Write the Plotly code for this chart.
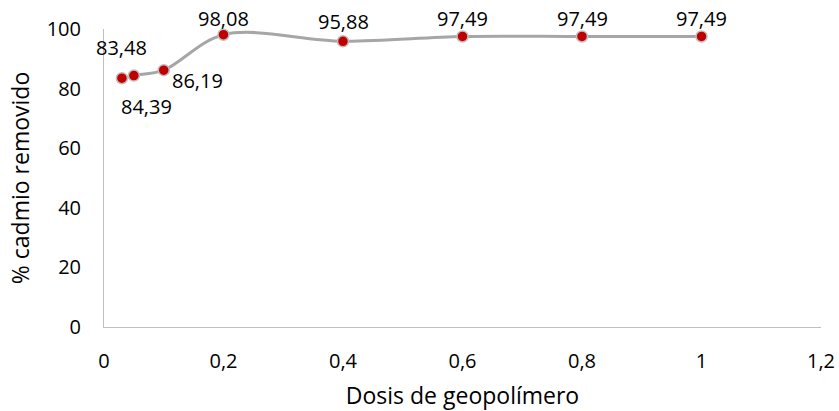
import plotly.graph_objects as go

dosis = [0.03, 0.05, 0.1, 0.2, 0.4, 0.6, 0.8, 1.0]
removido = [83.48, 84.39, 86.19, 98.08, 95.88, 97.49, 97.49, 97.49]
x_ticks = [0, 0.2, 0.4, 0.6, 0.8, 1.0, 1.2]
y_ticks = [0, 20, 40, 60, 80, 100]

# pixel offsets of the data labels from their markers (styling only)
label_dx = [0, 13, 34, 0, 0, 0, 0, 0]
label_dy = [31, -31, -10, 16, 20, 18, 18, 18]

font = "Open Sans, Liberation Sans, sans-serif"

fig = go.Figure()
fig.add_trace(go.Scatter(
    x=dosis, y=removido,
    mode="lines+markers",
    line=dict(color="#a6a6a6", width=3, shape="spline", smoothing=1),
    marker=dict(color="#c00000", size=11, line=dict(color="#bfbfbf", width=1.5)),
    cliponaxis=False,
    showlegend=False,
))

for xv, yv, dx, dy in zip(dosis, removido, label_dx, label_dy):
    fig.add_annotation(
        x=xv, y=yv, xref="x", yref="y",
        text=f"{yv:.2f}".replace(".", ","),
        showarrow=False, xshift=dx, yshift=dy,
        xanchor="center", yanchor="middle",
        font=dict(size=20, color="#000000", family=font),
    )

fig.update_layout(
    width=839, height=411,
    margin=dict(l=104, r=18, t=29, b=84),
    plot_bgcolor="white", paper_bgcolor="white",
    separators=", ",
    font=dict(family=font, size=20, color="#000000"),
    xaxis=dict(
        range=[0, 1.2], tickvals=x_ticks, showgrid=False,
        zeroline=False, showline=True, linecolor="#bfbfbf", linewidth=1,
        ticks="", ticklabelstandoff=16, automargin=False,
        tickfont=dict(size=20),
        title=dict(text="Dosis de geopolímero", font=dict(size=23), standoff=15),
    ),
    yaxis=dict(
        range=[0, 100], tickvals=y_ticks, showgrid=False,
        zeroline=False, showline=True, linecolor="#bfbfbf", linewidth=1,
        ticks="", ticklabelstandoff=18, automargin=False,
        tickfont=dict(size=20),
        title=dict(text="% cadmio removido", font=dict(size=23), standoff=10),
    ),
)

fig.write_html("out.html")
